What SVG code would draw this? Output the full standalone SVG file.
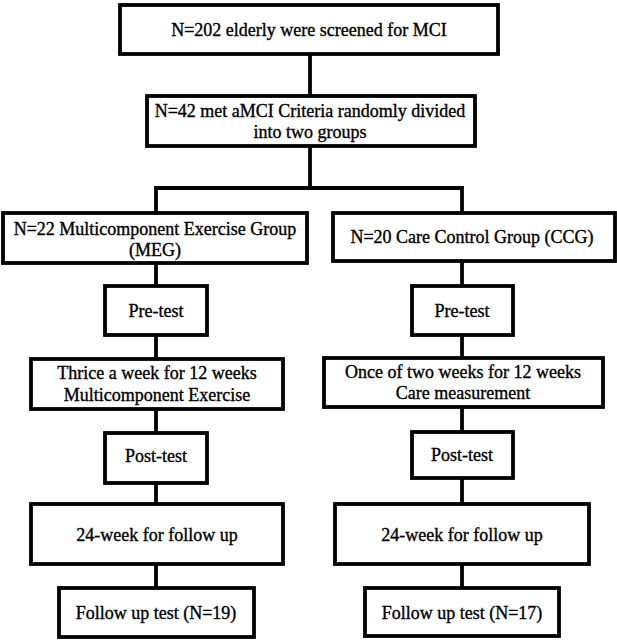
<svg xmlns="http://www.w3.org/2000/svg" width="617" height="641" viewBox="0 0 617 641">
<style>
.box{fill:#fff;stroke:#000;stroke-width:3.8}
.ln{fill:none;stroke:#000;stroke-width:3.8}
text{font-family:"Liberation Serif","Times New Roman",serif;font-size:18px;fill:#000;stroke:#000;stroke-width:0.35;text-anchor:middle}
</style>
<rect width="617" height="641" fill="#fff"/>
<g id="connectors">
<path class="ln" d="M310 54V96"/>
<path class="ln" d="M310 146V188M156 213V188H462V213"/>
<path class="ln" d="M156 263V286M156 335V359M156 409V433M156 483V504M156 564V588"/>
<path class="ln" d="M462 261V286M462 335V358M462 407V432M462 478V504M462 564V588"/>
</g>
<g id="screen"><rect class="box" x="120" y="5" width="378" height="49"/><text x="309" y="36">N=202 elderly were screened for MCI</text></g>
<g id="random"><rect class="box" x="147" y="96" width="328" height="50"/><text x="310" y="117">N=42 met aMCI Criteria randomly divided</text><text x="310" y="138">into two groups</text></g>
<g id="meg"><rect class="box" x="3" y="213" width="304" height="50"/><text x="155" y="235">N=22 Multicomponent Exercise Group</text><text x="155" y="256">(MEG)</text></g>
<g id="ccg"><rect class="box" x="333" y="213" width="282" height="48"/><text x="472" y="243">N=20 Care Control Group (CCG)</text></g>
<g id="pre-left"><rect class="box" x="105" y="286" width="102" height="49"/><text x="156" y="317">Pre-test</text></g>
<g id="pre-right"><rect class="box" x="412" y="286" width="101" height="49"/><text x="462" y="317">Pre-test</text></g>
<g id="thrice"><rect class="box" x="31" y="359" width="252" height="50"/><text x="157" y="379">Thrice a week for 12 weeks</text><text x="157" y="401">Multicomponent Exercise</text></g>
<g id="once"><rect class="box" x="324" y="358" width="279" height="49"/><text x="463" y="378">Once of two weeks for 12 weeks</text><text x="463" y="399">Care measurement</text></g>
<g id="post-left"><rect class="box" x="105" y="433" width="102" height="50"/><text x="156" y="462">Post-test</text></g>
<g id="post-right"><rect class="box" x="412" y="432" width="101" height="46"/><text x="462" y="461">Post-test</text></g>
<g id="follow-left"><rect class="box" x="31" y="504" width="252" height="60"/><text x="157" y="541">24-week for follow up</text></g>
<g id="follow-right"><rect class="box" x="335" y="504" width="254" height="60"/><text x="462" y="541">24-week for follow up</text></g>
<g id="test-left"><rect class="box" x="59" y="588" width="195" height="49"/><text x="156" y="619">Follow up test (N=19)</text></g>
<g id="test-right"><rect class="box" x="365" y="588" width="194" height="48"/><text x="462" y="619">Follow up test (N=17)</text></g>
</svg>
